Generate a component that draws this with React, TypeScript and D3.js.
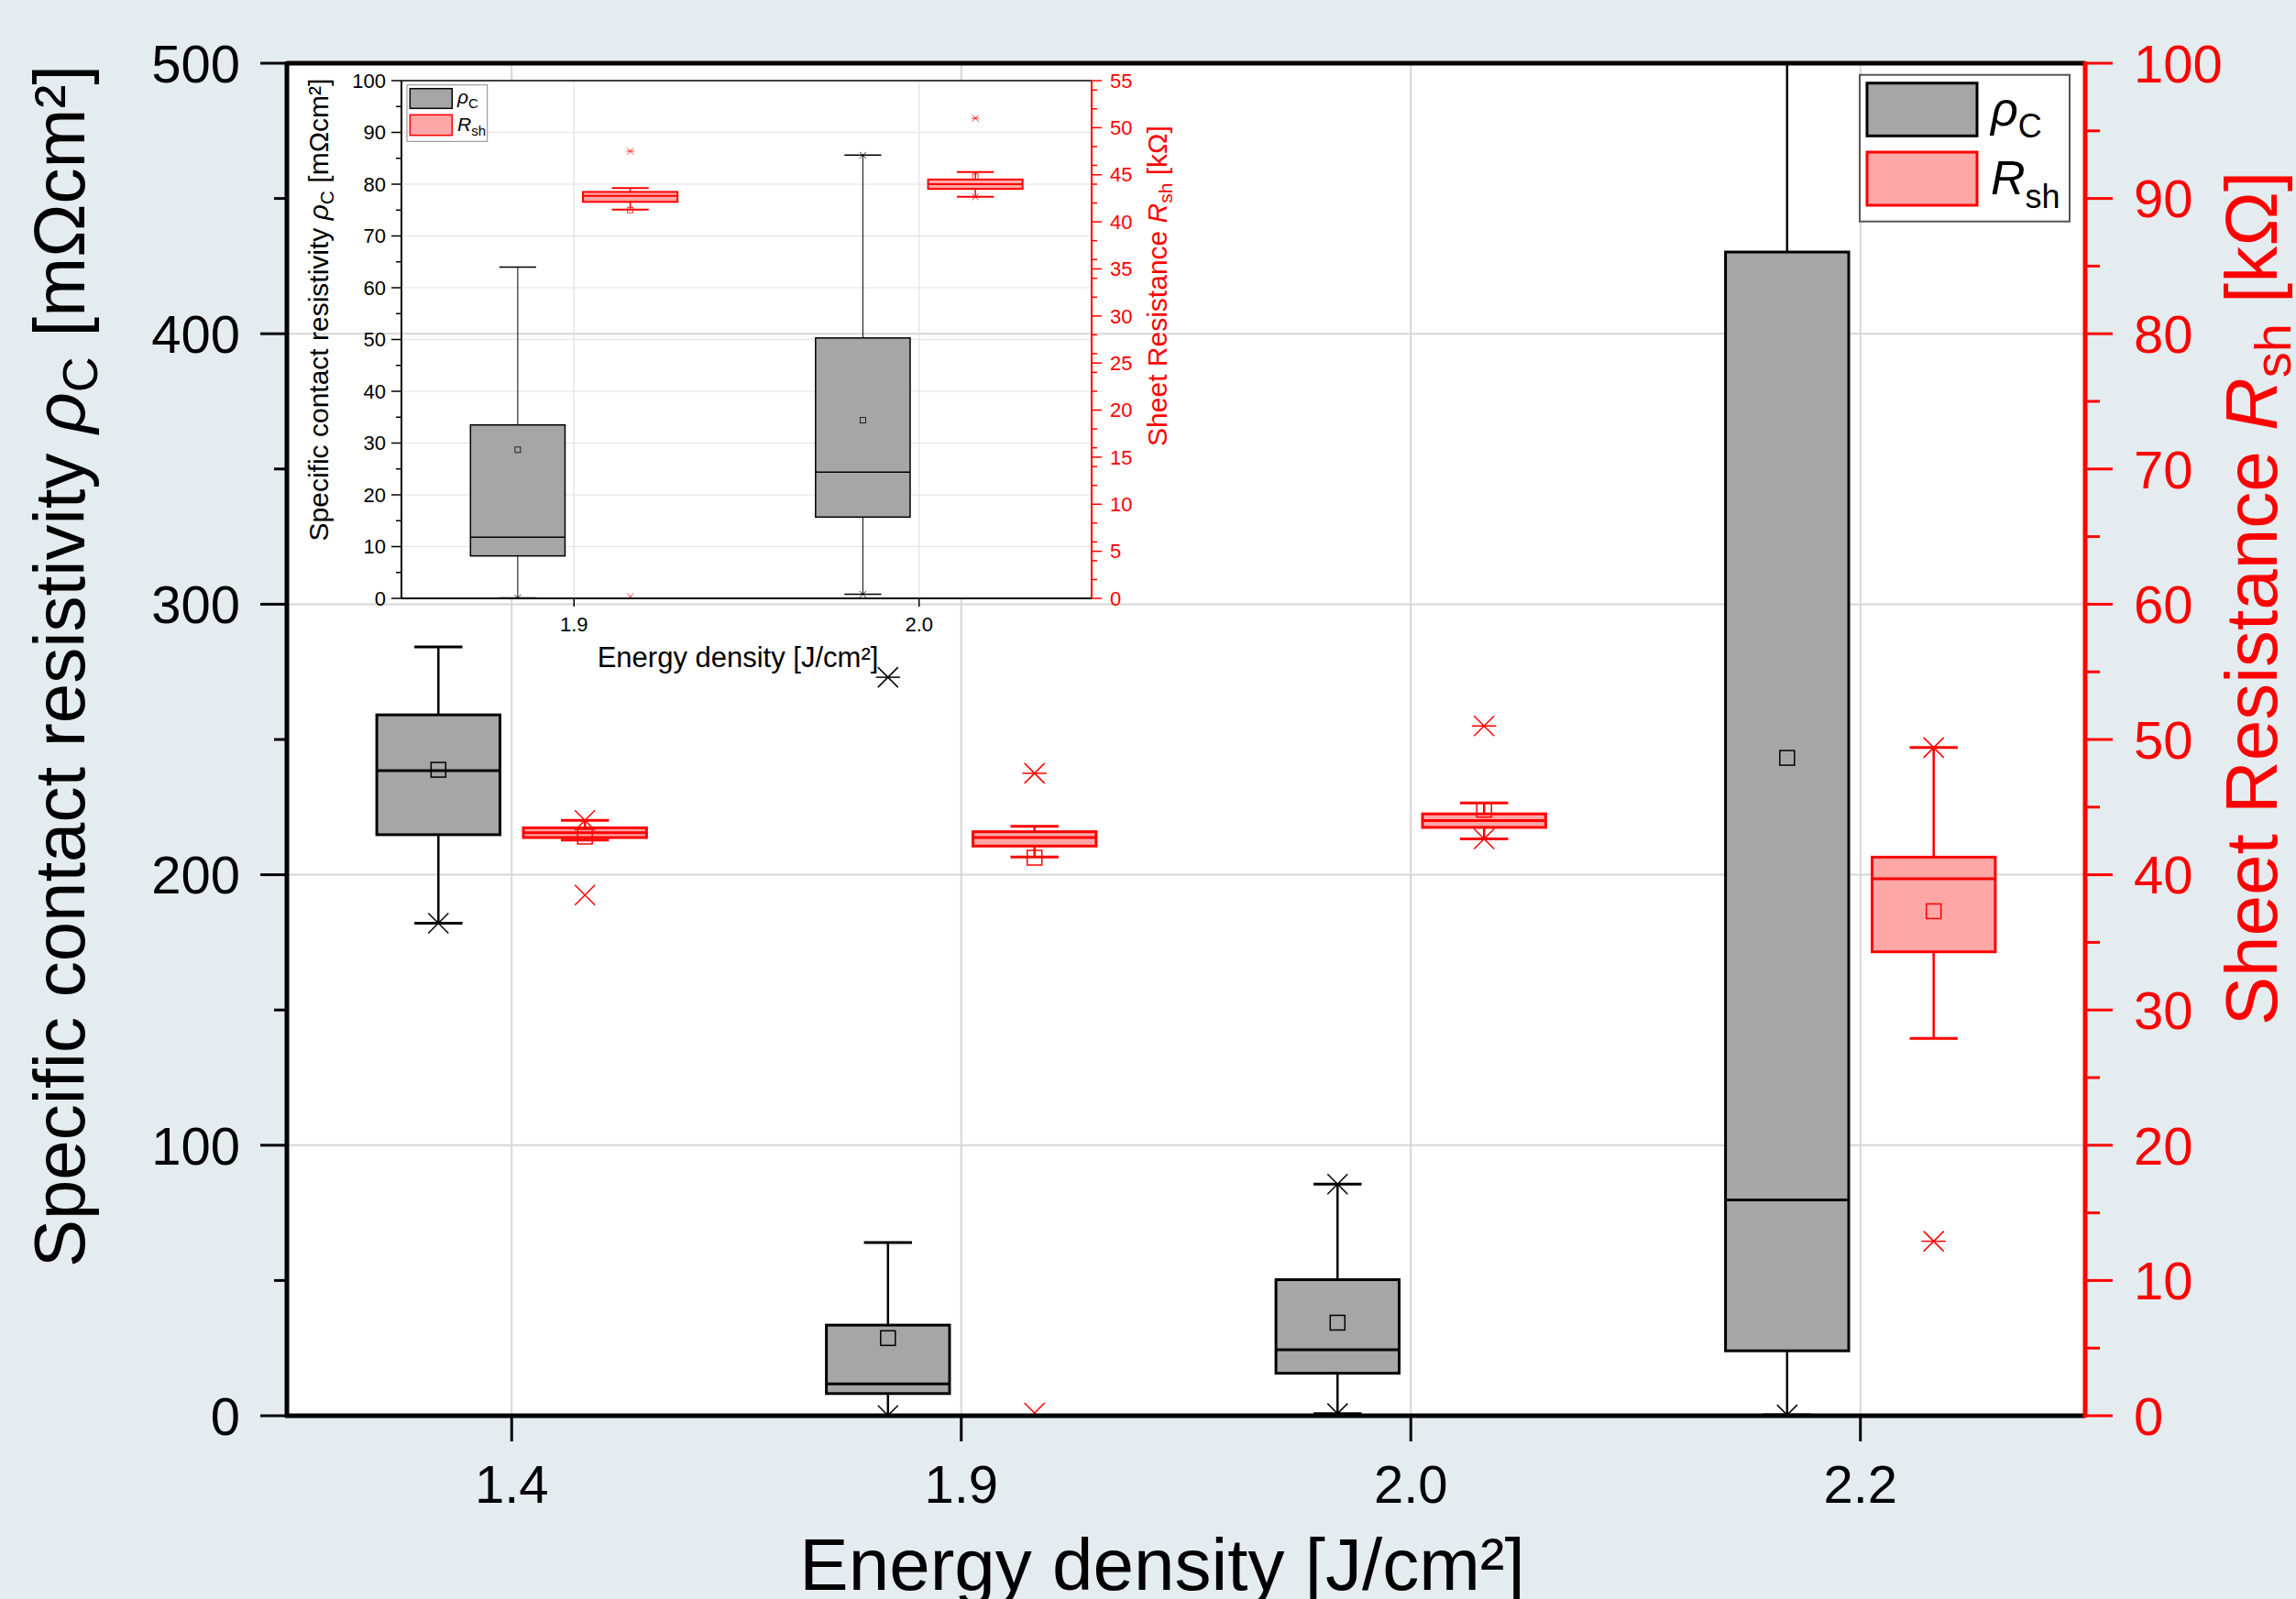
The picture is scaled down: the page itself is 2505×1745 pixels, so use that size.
import React from 'react';
import * as d3 from 'd3';

const W = 2505;
const H = 1745;
const FONT = '"Liberation Sans", Arial, Helvetica, sans-serif';
const RED = '#ff0000';
const GREY_FILL = '#a6a6a6';
const RED_FILL = '#ffa6a6';

// energy density categories
const categories = ['1.4', '1.9', '2.0', '2.2'];
const insetCategories = ['1.9', '2.0'];

// box stats per category: [whisker low, Q1, median, Q3, whisker high]
const rhoBox = [
  [182.1, 214.8, 238.5, 259.1, 284.2],
  [0.1, 8.2, 11.8, 33.5, 64.0],
  [0.8, 15.7, 24.4, 50.3, 85.6],
  [0.3, 24.0, 79.8, 430.2, 560],
];
const rhoMean = [238.8, 28.7, 34.4, 243.2];
const rhoCross = [[182.1], [0.1, 273.0], [0.8, 85.6], [0.3]];
const rhoDash = [[], [273.0], [], []];

const rshBox = [
  [42.57, 42.75, 43.11, 43.47, 44.02],
  [41.31, 42.12, 42.75, 43.18, 43.58],
  [42.65, 43.5, 44.0, 44.5, 45.3],
  [27.9, 34.3, 39.7, 41.3, 49.4],
];
const rshMean = [42.82, 41.26, 44.8, 37.3];
const rshCross = [[44.02, 38.5], [47.5, 0.2], [42.65, 51.0], [49.4, 12.9]];
const rshDash = [[], [47.5], [51.0], [12.9]];

// tick labels
const rhoTicks = [0, 100, 200, 300, 400, 500];
const rshTicks = [0, 10, 20, 30, 40, 50, 60, 70, 80, 90, 100];
const insetRhoTicks = [0, 10, 20, 30, 40, 50, 60, 70, 80, 90, 100];
const insetRshTicks = [0, 5, 10, 15, 20, 25, 30, 35, 40, 45, 50, 55];

// main plot frame
const M = { left: 313, right: 2275, top: 69, bottom: 1545 };
// inset plot frame
const I = { left: 438, right: 1191, top: 88, bottom: 653 };

function BoxSeries({ x, y, cats, box, mean, cross, dash, shift, bw, stroke, fill, sw, wsw, thin, meanSize, crossSize }: any) {
  return (
    <g>
      {cats.map((c: string) => {
        const i = categories.indexOf(c);
        const cx = x(c) + shift;
        const [lo, q1, med, q3, hi] = box[i];
        const capW = bw * 0.39;
        const s = crossSize;
        return (
          <g key={c}>
            <line x1={cx} x2={cx} y1={y(hi)} y2={y(q3)} stroke={stroke} strokeWidth={wsw} />
            <line x1={cx} x2={cx} y1={y(q1)} y2={y(lo)} stroke={stroke} strokeWidth={wsw} />
            <line x1={cx - capW / 2} x2={cx + capW / 2} y1={y(hi)} y2={y(hi)} stroke={stroke} strokeWidth={sw} />
            <line x1={cx - capW / 2} x2={cx + capW / 2} y1={y(lo)} y2={y(lo)} stroke={stroke} strokeWidth={sw} />
            <rect x={cx - bw / 2} y={y(q3)} width={bw} height={y(q1) - y(q3)} fill={fill} stroke={stroke} strokeWidth={sw} />
            <line x1={cx - bw / 2} x2={cx + bw / 2} y1={y(med)} y2={y(med)} stroke={stroke} strokeWidth={sw} />
            <rect x={cx - meanSize / 2} y={y(mean[i]) - meanSize / 2} width={meanSize} height={meanSize} fill="none" stroke={stroke} strokeWidth={thin} />
            {cross[i].map((v: number, k: number) => (
              <path key={'c' + k} d={`M${cx - s},${y(v) - s}L${cx + s},${y(v) + s}M${cx - s},${y(v) + s}L${cx + s},${y(v) - s}`} stroke={stroke} strokeWidth={thin} fill="none" />
            ))}
            {dash[i].map((v: number, k: number) => (
              <line key={'d' + k} x1={cx - s * 1.2} x2={cx + s * 1.2} y1={y(v)} y2={y(v)} stroke={stroke} strokeWidth={thin} />
            ))}
          </g>
        );
      })}
    </g>
  );
}

export default function App() {
  const x = d3.scalePoint<string>().domain(categories).range([M.left, M.right]).padding(0.5);
  const yL = d3.scaleLinear().domain([0, 500]).range([M.bottom, M.top]);
  const yR = d3.scaleLinear().domain([0, 100]).range([M.bottom, M.top]);
  const step = x.step();
  const off = step * 0.163;
  const bw = step * 0.274;

  const xi = d3.scalePoint<string>().domain(insetCategories).range([I.left, I.right]).padding(0.5);
  const yiL = d3.scaleLinear().domain([0, 100]).range([I.bottom, I.top]);
  const yiR = d3.scaleLinear().domain([0, 55]).range([I.bottom, I.top]);
  const istep = xi.step();
  const ioff = istep * 0.163;
  const ibw = istep * 0.274;

  const minorL = yL.ticks(10).filter((t) => !rhoTicks.includes(t));
  const minorR = yR.ticks(20).filter((t) => !rshTicks.includes(t));
  const iminorL = yiL.ticks(20).filter((t) => !insetRhoTicks.includes(t));
  const iminorR = yiR.ticks(22).filter((t) => !insetRshTicks.includes(t));

  return (
    <div style={{ position: 'absolute', left: 0, top: 0 }}>
      <svg width={W} height={H} style={{ display: 'block' }} fontFamily={FONT}>
        <defs>
          <clipPath id="mainClip">
            <rect x={M.left} y={M.top} width={M.right - M.left} height={M.bottom - M.top} />
          </clipPath>
          <clipPath id="insetClip">
            <rect x={I.left} y={I.top} width={I.right - I.left} height={I.bottom - I.top} />
          </clipPath>
        </defs>
        <rect width={W} height={H} fill="#e4ecef" />
        <rect x={M.left} y={M.top} width={M.right - M.left} height={M.bottom - M.top} fill="#fff" />

        {/* main vertical grid */}
        {categories.map((c) => (
          <line key={c} x1={x(c)} x2={x(c)} y1={M.top} y2={M.bottom} stroke="#d6d6d6" strokeWidth={2} />
        ))}
        {/* inset plot background */}
        <rect x={I.left} y={I.top} width={I.right - I.left} height={I.bottom - I.top} fill="#fff" />
        {/* main horizontal grid */}
        {rhoTicks.slice(1, -1).map((t) => (
          <line key={t} x1={M.left} x2={M.right} y1={yL(t)} y2={yL(t)} stroke="#d6d6d6" strokeWidth={2} />
        ))}

        {/* ---------- inset ---------- */}
        <g>
          {insetRhoTicks.slice(1, -1).map((t) => (
            <line key={t} x1={I.left} x2={I.right} y1={yiL(t)} y2={yiL(t)} stroke="#e2e2e2" strokeWidth={1.2} />
          ))}
          {insetCategories.map((c) => (
            <line key={c} x1={xi(c)} x2={xi(c)} y1={I.top} y2={I.bottom} stroke="#e2e2e2" strokeWidth={1.2} />
          ))}
          <g clipPath="url(#insetClip)">
            <BoxSeries x={xi} y={yiL} cats={insetCategories} box={rhoBox} mean={rhoMean} cross={rhoCross} dash={rhoDash}
              shift={-ioff} bw={ibw} stroke="#000" fill={GREY_FILL} sw={1.5} wsw={1} thin={0.8} meanSize={6} crossSize={3.5} />
            <BoxSeries x={xi} y={yiR} cats={insetCategories} box={rshBox} mean={rshMean} cross={rshCross} dash={rshDash}
              shift={ioff} bw={ibw} stroke={RED} fill={RED_FILL} sw={2} wsw={1.5} thin={0.8} meanSize={6} crossSize={3.5} />
          </g>
          {/* frame */}
          <line x1={I.left} x2={I.right} y1={I.top} y2={I.top} stroke="#000" strokeWidth={1.5} />
          <line x1={I.left} x2={I.right} y1={I.bottom} y2={I.bottom} stroke="#000" strokeWidth={2} />
          <line x1={I.left} x2={I.left} y1={I.top} y2={I.bottom} stroke="#000" strokeWidth={2} />
          <line x1={I.right} x2={I.right} y1={I.top} y2={I.bottom} stroke={RED} strokeWidth={2} />
          {insetRhoTicks.map((t) => (
            <g key={t}>
              <line x1={I.left - 11} x2={I.left} y1={yiL(t)} y2={yiL(t)} stroke="#000" strokeWidth={1.5} />
              <text x={I.left - 17} y={yiL(t)} dy="0.35em" textAnchor="end" fontSize={22}>{t}</text>
            </g>
          ))}
          {iminorL.map((t) => (
            <line key={t} x1={I.left - 6} x2={I.left} y1={yiL(t)} y2={yiL(t)} stroke="#000" strokeWidth={1.5} />
          ))}
          {insetRshTicks.map((t) => (
            <g key={t}>
              <line x1={I.right} x2={I.right + 11} y1={yiR(t)} y2={yiR(t)} stroke={RED} strokeWidth={1.5} />
              <text x={I.right + 20} y={yiR(t)} dy="0.35em" fontSize={22} fill={RED}>{t}</text>
            </g>
          ))}
          {iminorR.map((t) => (
            <line key={t} x1={I.right} x2={I.right + 6} y1={yiR(t)} y2={yiR(t)} stroke={RED} strokeWidth={1.5} />
          ))}
          {insetCategories.map((c) => (
            <g key={c}>
              <line x1={xi(c)} x2={xi(c)} y1={I.bottom} y2={I.bottom + 9} stroke="#000" strokeWidth={1.5} />
              <text x={xi(c)} y={689} textAnchor="middle" fontSize={22}>{c}</text>
            </g>
          ))}
          <text x={805} y={728} textAnchor="middle" fontSize={31}>Energy density [J/cm²]</text>
          <text transform="translate(358,338) rotate(-90)" textAnchor="middle" fontSize={30}>
            Specific contact resistivity <tspan fontStyle="italic">ρ</tspan>
            <tspan fontSize={21} dy={6}>C</tspan>
            <tspan dy={-6}> [mΩcm²]</tspan>
          </text>
          <text transform="translate(1273,312) rotate(-90)" textAnchor="middle" fontSize={30} fill={RED}>
            Sheet Resistance <tspan fontStyle="italic">R</tspan>
            <tspan fontSize={21} dy={6}>sh</tspan>
            <tspan dy={-6}> [kΩ]</tspan>
          </text>
          {/* inset legend */}
          <rect x={444} y={92.7} width={87.7} height={61.6} fill="#fff" stroke="#888" strokeWidth={1} />
          <rect x={447.3} y={96.7} width={46} height={21.6} fill={GREY_FILL} stroke="#000" strokeWidth={1.5} />
          <rect x={447.3} y={125.3} width={46} height={22.4} fill={RED_FILL} stroke={RED} strokeWidth={1.5} />
          <text x={499} y={113} fontSize={21}>
            <tspan fontStyle="italic">ρ</tspan><tspan fontSize={15} dy={5}>C</tspan>
          </text>
          <text x={499} y={143} fontSize={21}>
            <tspan fontStyle="italic">R</tspan><tspan fontSize={15} dy={5}>sh</tspan>
          </text>
        </g>

        {/* ---------- main boxes ---------- */}
        <g clipPath="url(#mainClip)">
          <BoxSeries x={x} y={yL} cats={categories} box={rhoBox} mean={rhoMean} cross={rhoCross} dash={rhoDash}
            shift={-off} bw={bw} stroke="#000" fill={GREY_FILL} sw={3} wsw={2.5} thin={1.5} meanSize={16} crossSize={11} />
          <BoxSeries x={x} y={yR} cats={categories} box={rshBox} mean={rshMean} cross={rshCross} dash={rshDash}
            shift={off} bw={bw} stroke={RED} fill={RED_FILL} sw={3} wsw={2.5} thin={1.5} meanSize={16} crossSize={11} />
        </g>

        {/* main frame */}
        <line x1={M.left} x2={M.right} y1={M.top} y2={M.top} stroke="#000" strokeWidth={5} />
        <line x1={M.left - 2} x2={M.right} y1={M.bottom} y2={M.bottom} stroke="#000" strokeWidth={5} />
        <line x1={M.left} x2={M.left} y1={M.top - 2} y2={M.bottom + 2} stroke="#000" strokeWidth={5} />
        <line x1={M.right} x2={M.right} y1={M.top - 2} y2={M.bottom + 2} stroke={RED} strokeWidth={5} />

        {/* left axis */}
        {rhoTicks.map((t) => (
          <g key={t}>
            <line x1={M.left - 29} x2={M.left} y1={yL(t)} y2={yL(t)} stroke="#000" strokeWidth={3} />
            <text x={262} y={yL(t)} dy="0.36em" textAnchor="end" fontSize={58}>{t}</text>
          </g>
        ))}
        {minorL.map((t) => (
          <line key={t} x1={M.left - 14} x2={M.left} y1={yL(t)} y2={yL(t)} stroke="#000" strokeWidth={3} />
        ))}
        {/* right axis */}
        {rshTicks.map((t) => (
          <g key={t}>
            <line x1={M.right} x2={M.right + 30} y1={yR(t)} y2={yR(t)} stroke={RED} strokeWidth={3} />
            <text x={2328} y={yR(t)} dy="0.36em" fontSize={58} fill={RED}>{t}</text>
          </g>
        ))}
        {minorR.map((t) => (
          <line key={t} x1={M.right} x2={M.right + 16} y1={yR(t)} y2={yR(t)} stroke={RED} strokeWidth={3} />
        ))}
        {/* bottom axis */}
        {categories.map((c) => (
          <g key={c}>
            <line x1={x(c)} x2={x(c)} y1={M.bottom} y2={M.bottom + 28} stroke="#000" strokeWidth={3} />
            <text x={x(c)} y={1640} textAnchor="middle" fontSize={58}>{c}</text>
          </g>
        ))}

        {/* titles */}
        <text x={1268} y={1735} textAnchor="middle" fontSize={80}>Energy density [J/cm²]</text>
        <text transform="translate(92,727) rotate(-90)" textAnchor="middle" fontSize={78}>
          Specific contact resistivity <tspan fontStyle="italic">ρ</tspan>
          <tspan fontSize={54} dy={14}>C</tspan>
          <tspan dy={-14}> [mΩcm²]</tspan>
        </text>
        <text transform="translate(2484,653) rotate(-90)" textAnchor="middle" fontSize={80} fill={RED}>
          Sheet Resistance <tspan fontStyle="italic">R</tspan>
          <tspan fontSize={56} dy={15}>sh</tspan>
          <tspan dy={-15}> [kΩ]</tspan>
        </text>

        {/* main legend */}
        <rect x={2029} y={81.7} width={229} height={160} fill="#fff" stroke="#555" strokeWidth={2} />
        <rect x={2037} y={90.7} width={120} height={57.6} fill={GREY_FILL} stroke="#000" strokeWidth={3} />
        <rect x={2037} y={166} width={120} height={58} fill={RED_FILL} stroke={RED} strokeWidth={3} />
        <text x={2172} y={137} fontSize={52}>
          <tspan fontStyle="italic">ρ</tspan><tspan fontSize={36} dy={13}>C</tspan>
        </text>
        <text x={2172} y={212} fontSize={52}>
          <tspan fontStyle="italic">R</tspan><tspan fontSize={36} dy={15}>sh</tspan>
        </text>
      </svg>
    </div>
  );
}
